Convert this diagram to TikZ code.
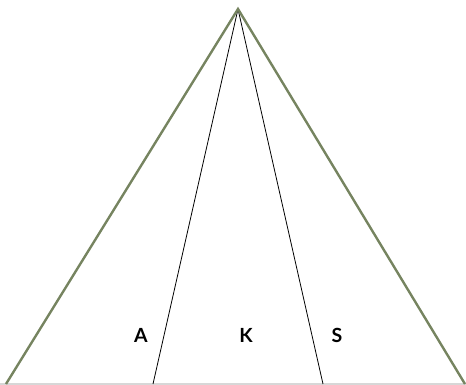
\documentclass[tikz,border=0pt]{standalone}
\usepackage{fontspec}
\setmainfont{Lato}
\definecolor{outer}{RGB}{118,132,96}
\definecolor{baseg}{RGB}{215,215,215}
\begin{document}
\begin{tikzpicture}[x=1pt,y=-1pt,
  outerline/.style={draw=outer,line width=2.4pt},
  innerline/.style={draw=black,line width=0.8pt},
  lbl/.style={font=\fontsize{19.5}{22}\selectfont\bfseries,inner sep=0pt}]
\useasboundingbox (0,0) rectangle (466,385);
\coordinate (apex) at (238,9);
\coordinate (bl) at (6,384);
\coordinate (br) at (465,384);
\coordinate (il) at (153,384);
\coordinate (ir) at (323,384);
\draw[draw=baseg,line width=1.2pt] (0,384) -- (466,384);
\draw[innerline] (apex) -- (il);
\draw[innerline] (apex) -- (ir);
\draw[outerline] (bl) -- (apex) -- (br);
\node[lbl] (a) at (141,335) {A};
\node[lbl] (k) at (246,335) {K};
\node[lbl] (s) at (337,335) {S};
\end{tikzpicture}
\end{document}
